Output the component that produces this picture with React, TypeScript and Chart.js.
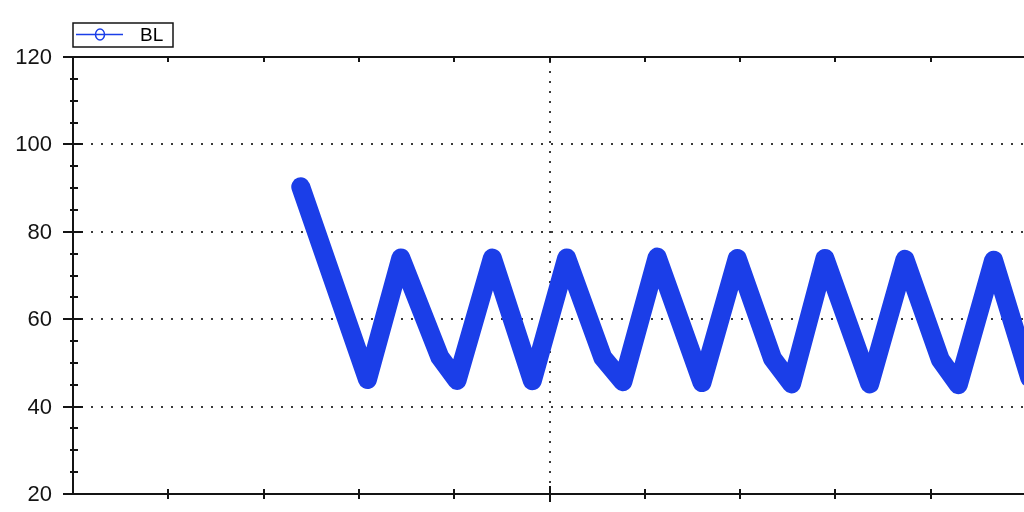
import React, { useEffect, useRef } from "react";
import { Chart, registerables } from "chart.js";

Chart.register(...registerables);

// ---- data ----
const seriesName = "BL";
const timeValues = [23.9, 30.9, 34.4, 38.5, 40.3, 44.0, 48.2, 51.8, 55.6, 57.7, 61.3, 66.0, 69.7, 73.4, 75.4, 78.9, 83.6, 87.3, 91.0, 92.9, 96.6, 100.4];
const blValues = [90.3, 46.2, 74.0, 51.3, 46.0, 74.0, 45.9, 74.0, 51.2, 45.7, 74.2, 45.5, 73.9, 51.0, 45.2, 73.9, 45.2, 73.7, 50.8, 45.0, 73.5, 46.5];
const yTickLabels = [20, 40, 60, 80, 100, 120];
const yGridValues = [40, 60, 80, 100];
const xTickValues = [10, 20, 30, 40, 50, 60, 70, 80, 90];
const xGridValues = [50];
const yMinorStep = 5;

const BLUE = "#1b3ee8";
const INK = "#141414";
const CANVAS_W = 1060;
const CANVAS_H = 540;

const framePlugin = {
  id: "frame",
  beforeDatasetsDraw(chart: any) {
    const { ctx, chartArea, scales } = chart;
    const xs = scales.x;
    const ys = scales.y;
    ctx.save();
    ctx.strokeStyle = "#3a3a3a";
    ctx.lineWidth = 2;
    ctx.setLineDash([2, 8]);
    yGridValues.forEach((v) => {
      const y = Math.round(ys.getPixelForValue(v));
      ctx.beginPath();
      ctx.moveTo(chartArea.left + 8, y);
      ctx.lineTo(chartArea.right, y);
      ctx.stroke();
    });
    xGridValues.forEach((v) => {
      const x = Math.round(xs.getPixelForValue(v));
      ctx.beginPath();
      ctx.moveTo(x, chartArea.top + 4);
      ctx.lineTo(x, chartArea.bottom);
      ctx.stroke();
    });
    ctx.restore();
  },
  afterDatasetsDraw(chart: any) {
    const { ctx, chartArea, scales } = chart;
    const xs = scales.x;
    const ys = scales.y;
    const L = chartArea.left;
    const T = chartArea.top;
    const B = chartArea.bottom;
    const R = chartArea.right + 40;
    ctx.save();
    ctx.strokeStyle = INK;
    ctx.lineWidth = 2;
    ctx.setLineDash([]);
    ctx.beginPath();
    ctx.moveTo(L, T);
    ctx.lineTo(L, B);
    ctx.moveTo(L - 10, B);
    ctx.lineTo(R, B);
    ctx.moveTo(L - 10, T);
    ctx.lineTo(R, T);
    ctx.stroke();
    yTickLabels.forEach((v) => {
      const y = Math.round(ys.getPixelForValue(v));
      ctx.beginPath();
      ctx.moveTo(L - 10, y);
      ctx.lineTo(L + 10, y);
      ctx.stroke();
    });
    for (let v = ys.min; v <= ys.max; v += yMinorStep) {
      if (v % 20 === 0) continue;
      const y = Math.round(ys.getPixelForValue(v));
      ctx.beginPath();
      ctx.moveTo(L - 3, y);
      ctx.lineTo(L + 5, y);
      ctx.stroke();
    }
    xTickValues.forEach((v) => {
      const x = Math.round(xs.getPixelForValue(v));
      const big = v === 50;
      ctx.beginPath();
      ctx.moveTo(x, B - (big ? 8 : 5));
      ctx.lineTo(x, B + (big ? 8 : 5));
      ctx.moveTo(x, T);
      ctx.lineTo(x, T + 5);
      ctx.stroke();
    });
    ctx.fillStyle = INK;
    ctx.font = '22px "Liberation Sans", Arial, sans-serif';
    ctx.textAlign = "right";
    ctx.textBaseline = "middle";
    yTickLabels.forEach((v) => {
      const y = ys.getPixelForValue(v);
      ctx.fillText(String(v), L - 21, y + 1);
    });
    ctx.restore();
  },
  afterDraw(chart: any) {
    const { ctx } = chart;
    ctx.save();
    ctx.fillStyle = "#ffffff";
    ctx.fillRect(73, 23, 100, 24);
    ctx.strokeStyle = INK;
    ctx.lineWidth = 1.5;
    ctx.strokeRect(73, 23, 100, 24);
    ctx.strokeStyle = BLUE;
    ctx.lineWidth = 1.5;
    ctx.beginPath();
    ctx.moveTo(76, 34.5);
    ctx.lineTo(123, 34.5);
    ctx.stroke();
    ctx.beginPath();
    ctx.ellipse(100, 34.5, 4.5, 5.5, 0, 0, Math.PI * 2);
    ctx.fillStyle = "#ffffff";
    ctx.fill();
    ctx.stroke();
    ctx.beginPath();
    ctx.moveTo(95.5, 34.5);
    ctx.lineTo(104.5, 34.5);
    ctx.stroke();
    ctx.fillStyle = "#000000";
    ctx.font = '19px "Liberation Sans", Arial, sans-serif';
    ctx.textAlign = "left";
    ctx.textBaseline = "middle";
    ctx.fillText(seriesName, 140, 35.5);
    ctx.restore();
  },
};

export default function App() {
  const ref = useRef<HTMLCanvasElement | null>(null);
  useEffect(() => {
    if (!ref.current) return;
    const points = timeValues.map((t, i) => ({ x: t, y: blValues[i] }));
    const chart = new Chart(ref.current, {
      type: "line",
      data: {
        datasets: [
          {
            label: seriesName,
            data: points,
            borderColor: BLUE,
            backgroundColor: BLUE,
            borderWidth: 19,
            borderJoinStyle: "round",
            borderCapStyle: "round",
            pointRadius: 0,
            tension: 0,
            fill: false,
          },
        ],
      },
      options: {
        animation: false,
        responsive: false,
        devicePixelRatio: 1,
        events: [],
        layout: {
          padding: { left: 73, top: 57, right: CANVAS_W - 1026, bottom: CANVAS_H - 494 },
        },
        plugins: { legend: { display: false }, tooltip: { enabled: false }, title: { display: false } },
        scales: {
          x: { type: "linear", min: 0, max: 100, display: false },
          y: { type: "linear", min: 20, max: 120, display: false },
        },
      },
      plugins: [framePlugin],
    });
    return () => chart.destroy();
  }, []);
  return (
    <div style={{ position: "fixed", left: 0, top: 0, width: 1024, height: 512, overflow: "hidden", background: "#fff" }}>
      <canvas ref={ref} width={CANVAS_W} height={CANVAS_H} style={{ display: "block" }} />
    </div>
  );
}
